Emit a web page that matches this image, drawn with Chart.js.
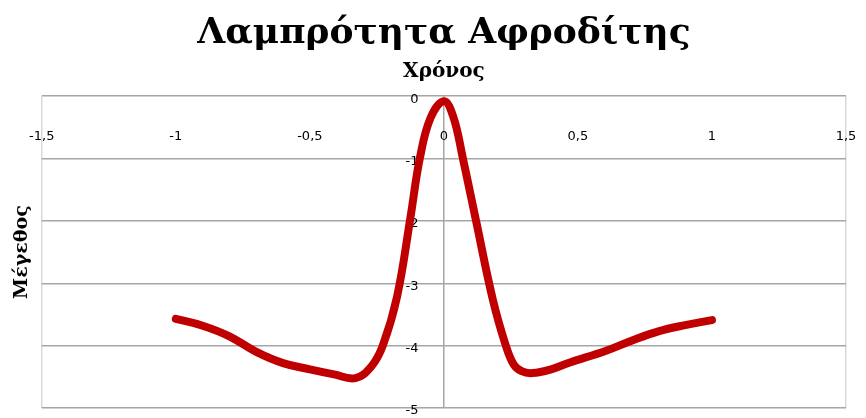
<!DOCTYPE html>
<html>
<head>
<meta charset="utf-8">
<script src="https://cdn.jsdelivr.net/npm/chart.js@4/dist/chart.umd.min.js"></script>
<style>
  html, body { margin: 0; padding: 0; background: #fff; }
  #wrap { width: 866px; height: 418px; }
</style>
</head>
<body>
<div id="wrap"><canvas id="venus"></canvas></div>
<script>
// time (x) and magnitude (y)
var times = [-1, -0.9, -0.8, -0.7, -0.6, -0.5, -0.41, -0.33, -0.27, -0.228, -0.175, -0.125, -0.09, -0.05,
             0, 0.035, 0.071, 0.12, 0.183, 0.231, 0.26, 0.29, 0.33, 0.4, 0.47, 0.6, 0.7, 0.8, 0.9, 1];
var magnitudes = [-3.57, -3.68, -3.85, -4.1, -4.28, -4.38, -4.46, -4.52, -4.33, -4.0, -3.22, -1.95, -1.0, -0.35,
                  -0.08, -0.33, -1.0, -2.0, -3.27, -4.0, -4.3, -4.41, -4.44, -4.38, -4.27, -4.09, -3.92, -3.77, -3.67, -3.59];

var chartTitle = 'Λαμπρότητα Αφροδίτης';
var xTitle = 'Χρόνος';
var yTitle = 'Μέγεθος';

var xMin = -1.5, xMax = 1.5, xStep = 0.5;
var yMin = -5, yMax = 0, yStep = 1;

function commaNum(v) {
  return String(v).replace('.', ',');
}

var points = [];
for (let i = 0; i < times.length; i++) {
  points.push({ x: times[i], y: magnitudes[i] });
}

var tickFont = { family: 'DejaVu Sans', size: 13 };

var config = {
  type: 'line',
  data: {
    datasets: [{
      label: yTitle,
      data: points,
      borderColor: '#c00000',
      borderWidth: 8,
      borderCapStyle: 'round',
      borderJoinStyle: 'round',
      pointRadius: 0,
      tension: 0.4,
      clip: false
    }]
  },
  options: {
    responsive: true,
    maintainAspectRatio: false,
    animation: false,
    layout: { padding: { left: 9, right: 20, top: 0, bottom: 10 } },
    plugins: {
      legend: { display: false },
      tooltip: { enabled: false },
      title: {
        display: true,
        fullSize: false,
        text: chartTitle,
        color: '#000',
        font: { family: 'DejaVu Serif', size: 36, weight: 'bold' },
        padding: { top: 12, bottom: 0 }
      },
      subtitle: {
        display: true,
        fullSize: false,
        text: xTitle,
        color: '#000',
        font: { family: 'DejaVu Serif', size: 20, weight: 'bold' },
        padding: { top: 5, bottom: 12 }
      }
    },
    scales: {
      // data axes: grid only, drawn under the line
      x: {
        type: 'linear',
        min: xMin, max: xMax,
        position: { y: 0 },
        ticks: { display: false, stepSize: xStep },
        grid: {
          drawTicks: false,
          lineWidth: 1.5,
          color: function(c) {
            var v = c.tick ? c.tick.value : null;
            if (v === 0) return '#a6a6a6';
            if (v === xMin || v === xMax) return '#d9d9d9';
            return 'rgba(0,0,0,0)';
          }
        },
        border: { display: false }
      },
      y: {
        type: 'linear',
        min: yMin, max: yMax,
        position: { x: 0 },
        ticks: { display: false, stepSize: yStep },
        grid: { drawTicks: false, lineWidth: 1.5, color: '#a6a6a6' },
        border: { display: false }
      },
      // label axes, drawn over the line
      xl: {
        type: 'linear',
        axis: 'x',
        min: xMin, max: xMax,
        position: { y: -0.53 },
        z: 1,
        grid: { display: false, drawTicks: false },
        border: { display: false },
        ticks: {
          stepSize: xStep,
          padding: 0,
          color: '#000',
          font: tickFont,
          maxRotation: 0,
          autoSkip: false,
          callback: function(v) { return commaNum(v); }
        }
      },
      yl: {
        type: 'linear',
        axis: 'y',
        min: yMin, max: yMax,
        position: { x: -0.095 },
        z: 1,
        grid: { display: false, drawTicks: false },
        border: { display: false },
        ticks: {
          stepSize: yStep,
          padding: 0,
          labelOffset: 3,
          color: '#000',
          font: tickFont,
          autoSkip: false,
          callback: function(v) { return commaNum(v); }
        }
      },
      yt: {
        type: 'linear',
        axis: 'y',
        min: yMin, max: yMax,
        position: 'left',
        grid: { display: false, drawTicks: false },
        border: { display: false },
        ticks: { display: false },
        title: {
          display: true,
          text: yTitle,
          color: '#000',
          font: { family: 'DejaVu Serif', size: 19, weight: 'bold' },
          padding: { top: 2, bottom: 8 }
        }
      }
    }
  }
};

var ctx = document.getElementById('venus').getContext('2d');
window.venusChart = new Chart(ctx, config);
</script>
</body>
</html>
